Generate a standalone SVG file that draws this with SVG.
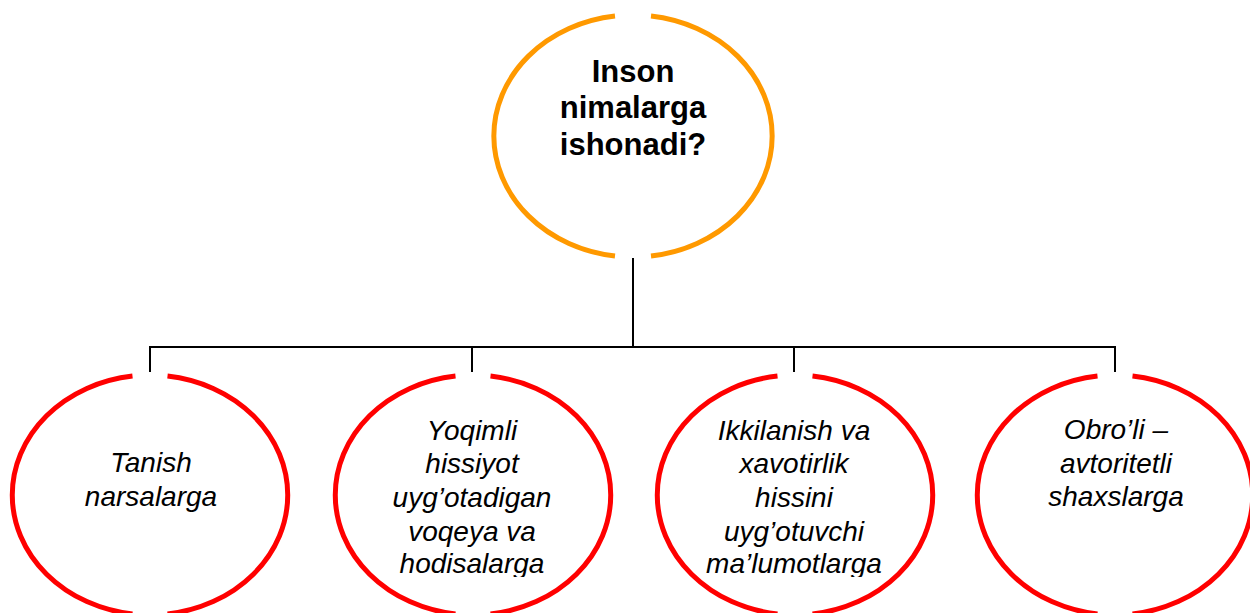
<svg xmlns="http://www.w3.org/2000/svg" width="1250" height="613" viewBox="0 0 1250 613">
<style>
.ring{fill:none;stroke-width:5}
.top{stroke:#FF9900}
.red{stroke:#FF0000}
.conn{fill:none;stroke:#000;stroke-width:2}
.tt{font-family:"Liberation Sans",Arial,sans-serif;font-weight:bold;font-size:31px;fill:#000;text-anchor:middle}
.bt{font-family:"Liberation Sans",Arial,sans-serif;font-style:italic;font-size:28px;fill:#000;text-anchor:middle}
</style>
<defs>
<clipPath id="clipBottom"><rect x="0" y="0" width="1250" height="577"/></clipPath>
</defs>
<rect width="1250" height="613" fill="#fff"/>
<g id="connectors">
<path class="conn" d="M633 258 V347 M150 347 H1115 M150 346 V372 M472 347 V372 M794 347 V372 M1115 346 V372"/>
</g>
<g id="root">
<path class="ring top" d="M615 16 A139 121 0 0 0 615 256 M651 16 A139 121 0 0 1 651 256"/>
<text class="tt" x="633" y="82">Inson</text>
<text class="tt" x="633" y="118">nimalarga</text>
<text class="tt" x="633" y="155">ishonadi?</text>
</g>
<g id="node1">
<path class="ring red" transform="translate(150 495)" d="M-17.5 -119 A138 120 0 0 0 -17.5 119 M17.5 -119 A138 120 0 0 1 17.5 119"/>
<text class="bt" x="151" y="472">Tanish</text>
<text class="bt" x="151" y="506">narsalarga</text>
</g>
<g id="node2">
<path class="ring red" transform="translate(473 495)" d="M-17.5 -119 A138 120 0 0 0 -17.5 119 M17.5 -119 A138 120 0 0 1 17.5 119"/>
<g clip-path="url(#clipBottom)">
<text class="bt" x="472" y="440">Yoqimli</text>
<text class="bt" x="472" y="473">hissiyot</text>
<text class="bt" x="472" y="507">uyg’otadigan</text>
<text class="bt" x="472" y="541">voqeya va</text>
<text class="bt" x="472" y="573">hodisalarga</text>
</g>
</g>
<g id="node3">
<path class="ring red" transform="translate(795 495)" d="M-17.5 -119 A138 120 0 0 0 -17.5 119 M17.5 -119 A138 120 0 0 1 17.5 119"/>
<g clip-path="url(#clipBottom)">
<text class="bt" x="794" y="440">Ikkilanish va</text>
<text class="bt" x="794" y="473">xavotirlik</text>
<text class="bt" x="794" y="507">hissini</text>
<text class="bt" x="794" y="541">uyg’otuvchi</text>
<text class="bt" x="794" y="573">ma’lumotlarga</text>
</g>
</g>
<g id="node4">
<path class="ring red" transform="translate(1115 495)" d="M-17.5 -119 A138 120 0 0 0 -17.5 119 M17.5 -119 A138 120 0 0 1 17.5 119"/>
<text class="bt" x="1116" y="439">Obro’li –</text>
<text class="bt" x="1116" y="473">avtoritetli</text>
<text class="bt" x="1116" y="506">shaxslarga</text>
</g>
</svg>
